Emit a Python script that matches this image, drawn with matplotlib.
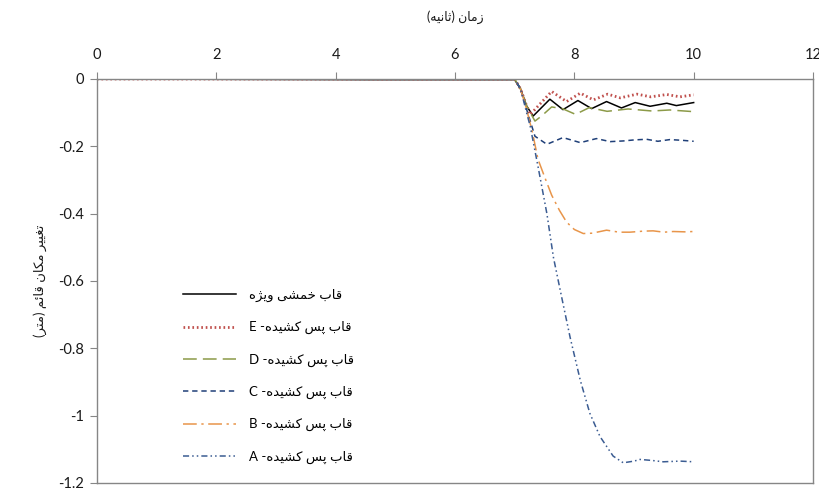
import matplotlib
matplotlib.use("Agg")
import matplotlib.pyplot as plt

# ---------------- data ----------------
x_label = "زمان (ثانیه)"
y_label = "تغییر مکان قائم (متر)"

label_ref = "قاب خمشی ویژه"
label_E = "قاب پس کشیده- E"
label_D = "قاب پس کشیده- D"
label_C = "قاب پس کشیده- C"
label_B = "قاب پس کشیده- B"
label_A = "قاب پس کشیده- A"

x_ticks = [0, 2, 4, 6, 8, 10, 12]
y_ticks = [-1.2, -1.0, -0.8, -0.6, -0.4, -0.2, 0.0]
y_tick_labels = ["-1.2", "-1", "-0.8", "-0.6", "-0.4", "-0.2", "0"]

t_ref = [0, 4.6, 7.0, 7.1, 7.2, 7.31, 7.45, 7.59, 7.81, 8.06, 8.29, 8.54, 8.79, 9.02, 9.27, 9.55, 9.71, 10.0]
v_ref = [0, -0.002, -0.002, -0.03, -0.08, -0.11, -0.085, -0.06, -0.091, -0.064, -0.088, -0.067, -0.086,
         -0.070, -0.081, -0.072, -0.079, -0.070]

t_E = [0, 7.0, 7.1, 7.2, 7.26, 7.42, 7.62, 7.87, 8.10, 8.32, 8.56, 8.77, 9.05, 9.28, 9.55, 9.77, 10.0]
v_E = [0, 0, -0.03, -0.08, -0.106, -0.075, -0.037, -0.067, -0.042, -0.062, -0.045, -0.056, -0.045,
       -0.053, -0.046, -0.053, -0.047]

t_D = [0, 7.0, 7.1, 7.2, 7.34, 7.45, 7.62, 7.8, 8.02, 8.25, 8.55, 8.9, 9.3, 9.6, 10.0]
v_D = [0, 0, -0.03, -0.08, -0.125, -0.11, -0.083, -0.088, -0.105, -0.085, -0.096, -0.089, -0.095,
       -0.092, -0.097]

t_C = [0, 7.0, 7.1, 7.2, 7.34, 7.54, 7.81, 8.1, 8.37, 8.6, 8.82, 9.0, 9.21, 9.4, 9.6, 9.8, 10.0]
v_C = [0, 0, -0.03, -0.09, -0.17, -0.194, -0.174, -0.189, -0.177, -0.186, -0.184, -0.181, -0.179,
       -0.185, -0.18, -0.182, -0.185]

t_B = [0, 7.0, 7.1, 7.2, 7.3, 7.39, 7.5, 7.62, 7.75, 7.87, 8.0, 8.15, 8.3, 8.54, 8.75, 8.93, 9.15,
       9.32, 9.5, 9.66, 9.85, 10.0]
v_B = [0, 0, -0.03, -0.09, -0.16, -0.238, -0.29, -0.345, -0.39, -0.425, -0.447, -0.459, -0.458,
       -0.449, -0.455, -0.455, -0.452, -0.451, -0.455, -0.453, -0.454, -0.453]

t_A = [0, 7.0, 7.1, 7.2, 7.26, 7.4, 7.54, 7.65, 7.79, 7.93, 8.1, 8.26, 8.43, 8.65, 8.82, 9.0, 9.1,
       9.3, 9.49, 9.77, 10.0]
v_A = [0, 0, -0.03, -0.1, -0.14, -0.268, -0.4, -0.53, -0.65, -0.768, -0.895, -0.993, -1.062,
       -1.12, -1.14, -1.135, -1.13, -1.133, -1.137, -1.135, -1.137]

# ---------------- Persian shaping (matplotlib has no bidi/shaping) ----------------
# letter: (isolated, final, initial, medial); None for initial/medial => right-joining only
FORMS = {
    "ا": (0xFE8D, 0xFE8E, None, None),
    "ب": (0xFE8F, 0xFE90, 0xFE91, 0xFE92),
    "پ": (0xFB56, 0xFB57, 0xFB58, 0xFB59),
    "ت": (0xFE95, 0xFE96, 0xFE97, 0xFE98),
    "ث": (0xFE99, 0xFE9A, 0xFE9B, 0xFE9C),
    "خ": (0xFEA5, 0xFEA6, 0xFEA7, 0xFEA8),
    "د": (0xFEA9, 0xFEAA, None, None),
    "ر": (0xFEAD, 0xFEAE, None, None),
    "ز": (0xFEAF, 0xFEB0, None, None),
    "ژ": (0xFB8A, 0xFB8B, None, None),
    "س": (0xFEB1, 0xFEB2, 0xFEB3, 0xFEB4),
    "ش": (0xFEB5, 0xFEB6, 0xFEB7, 0xFEB8),
    "غ": (0xFECD, 0xFECE, 0xFECF, 0xFED0),
    "ق": (0xFED5, 0xFED6, 0xFED7, 0xFED8),
    "ک": (0xFB8E, 0xFB8F, 0xFB90, 0xFB91),
    "ل": (0xFEDD, 0xFEDE, 0xFEDF, 0xFEE0),
    "م": (0xFEE1, 0xFEE2, 0xFEE3, 0xFEE4),
    "ن": (0xFEE5, 0xFEE6, 0xFEE7, 0xFEE8),
    "ه": (0xFEE9, 0xFEEA, 0xFEEB, 0xFEEC),
    "و": (0xFEED, 0xFEEE, None, None),
    "ی": (0xFBFC, 0xFBFD, 0xFBFE, 0xFBFF),
    "ئ": (0xFE89, 0xFE8A, 0xFE8B, 0xFE8C),
}
MIRROR = {"(": ")", ")": "("}


def shape(s):
    out = []
    n = len(s)
    for i, ch in enumerate(s):
        if ch not in FORMS:
            out.append(MIRROR.get(ch, ch))
            continue
        f = FORMS[ch]
        prev_j = i > 0 and s[i - 1] in FORMS and FORMS[s[i - 1]][2] is not None
        next_j = f[2] is not None and i + 1 < n and s[i + 1] in FORMS
        if prev_j and next_j:
            cp = f[3]
        elif prev_j:
            cp = f[1]
        elif next_j:
            cp = f[2]
        else:
            cp = f[0]
        out.append(chr(cp))
    return "".join(reversed(out))


# ---------------- figure ----------------
plt.rcParams["font.family"] = ["Lato", "DejaVu Sans"]
fig = plt.figure(figsize=(8.2, 4.91), dpi=100)
W, H = 820, 491
L, R, T, B = 97, 813, 79, 483
ax = fig.add_axes([L / W, 1 - B / H, (R - L) / W, (B - T) / H])

ax.plot(t_ref, v_ref, color="black", lw=1.1, label=shape(label_ref))
ax.plot(t_E, v_E, color="#C0504D", lw=2.0, linestyle=(0, (0.6, 1.0)), label=shape(label_E))
ax.plot(t_D, v_D, color="#8C9A48", lw=1.1, linestyle=(0, (9, 4)), label=shape(label_D))
ax.plot(t_C, v_C, color="#1F3F78", lw=1.1, linestyle=(0, (3.5, 2.5)), label=shape(label_C))
ax.plot(t_B, v_B, color="#E8954A", lw=1.1, linestyle=(0, (9, 3, 1.5, 3)), label=shape(label_B))
ax.plot(t_A, v_A, color="#3B5C92", lw=1.1, linestyle=(0, (4, 2, 1, 2, 1, 2)), label=shape(label_A))

ax.set_xlim(0, 12)
ax.set_ylim(-1.2, 0)
ax.xaxis.tick_top()
ax.set_xticks(x_ticks)
ax.set_xticklabels([str(v) for v in x_ticks])
ax.set_yticks(y_ticks)
ax.set_yticklabels(y_tick_labels)
ax.tick_params(axis="both", direction="out", length=5, width=0.8, color="#868686",
               labelsize=10.5, labelcolor="#1a1a1a")
ax.tick_params(axis="x", pad=7)
ax.tick_params(axis="y", pad=4)
for sp in ax.spines.values():
    sp.set_color("#868686")
    sp.set_linewidth(1.0)

ax.xaxis.set_label_position("top")
ax.set_xlabel(shape(x_label), fontsize=9, color="#1a1a1a")
ax.xaxis.set_label_coords(0.5, (B - 17) / (B - T))
ax.xaxis.label.set_va("center")
ax.set_ylabel(shape(y_label), fontsize=9.5, color="#1a1a1a")
ax.yaxis.set_label_coords(-(L - 40) / (R - L), 0.5)
ax.yaxis.label.set_va("center")

leg = ax.legend(loc="upper left", bbox_to_anchor=((183 - L) / (R - L), (B - 289) / (B - T)),
                frameon=False, fontsize=9.5, handlelength=4.0, handletextpad=1.0,
                labelspacing=1.45, borderpad=0, borderaxespad=0)

fig.savefig("out.png", dpi=100)
